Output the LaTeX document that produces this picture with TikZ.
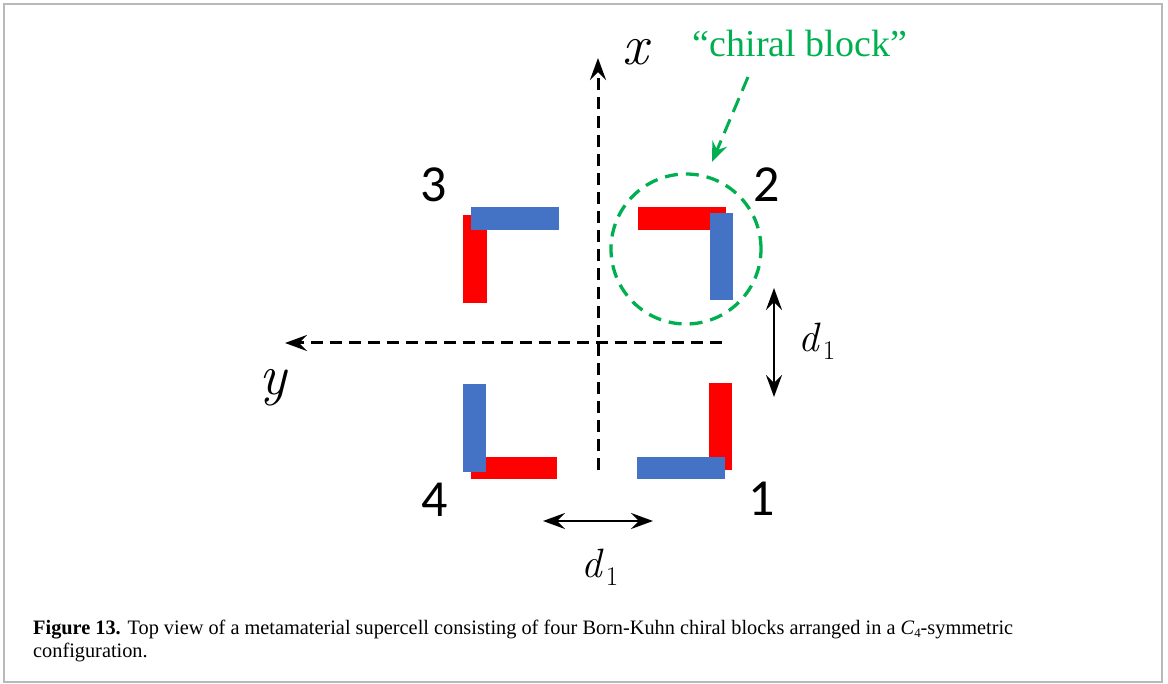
\documentclass[tikz,border=0pt]{standalone}
\usepackage{fontspec}
\usepackage{graphicx}
\newfontfamily\digitfont{Carlito}
\newfontfamily\capfont{Liberation Serif}
\usetikzlibrary{arrows.meta}
\definecolor{myred}{HTML}{FF0000}
\definecolor{myblue}{HTML}{4472C4}
\definecolor{mygreen}{HTML}{00B050}
\newsavebox\capA
\newsavebox\capB
\newcommand\donesub{\textit{d}\kern1.5pt\raisebox{-8pt}{\fontsize{27}{30}\selectfont 1}}
\tikzset{
  axisline/.style={line width=3pt, dash pattern=on 12pt off 7pt, -{Stealth[length=22pt,width=16pt,inset=8pt]}},
  dimarrow/.style={line width=2.6pt, {Stealth[length=22pt,width=16pt,inset=8pt]}-{Stealth[length=22pt,width=16pt,inset=8pt]}},
  greenarrow/.style={mygreen, line width=3pt, dash pattern=on 15pt off 8pt, -{Stealth[length=20pt,width=16pt,inset=7pt]}},
  digitlabel/.style={anchor=base, inner sep=0pt, font=\digitfont\fontsize{52}{60}\selectfont},
  axislabel/.style={anchor=base, inner sep=0pt, font=\fontsize{57}{60}\selectfont\itshape},
  dimlabel/.style={anchor=base, inner sep=0pt, font=\fontsize{41}{44}\selectfont},
  redbar/.style={fill=myred},
  bluebar/.style={fill=myblue},
}
\begin{document}
\sbox\capA{\capfont\fontsize{20.5}{23}\selectfont\textbf{Figure 13.} Top view of a metamaterial supercell consisting of four Born-Kuhn chiral blocks arranged in a \textit{C}\raisebox{-3pt}{\fontsize{13}{13}\selectfont 4}-symmetric}%
\sbox\capB{\capfont\fontsize{20.5}{23}\selectfont configuration.}%
\pgfmathsetmacro\capsx{980/\the\wd\capA}%
\begin{tikzpicture}[x=1pt,y=-1pt]
\useasboundingbox (0,0) rectangle (1168,684);
\draw[gray!55, line width=2.5pt] (4,4) rectangle (1162,682);

% axes
\coordinate (xs) at (598,470);
\coordinate (xe) at (598,58);
\coordinate (ys) at (722,343);
\coordinate (ye) at (285,343);
\draw[axisline] (xs) -- (xe);
\draw[axisline] (ys) -- (ye);
\node[axislabel] (xl) at (635,65) {x};
\node[axislabel] (yl) at (273,395) {y};

% block 3
\fill[redbar] (463,215) rectangle (487,303);
\fill[bluebar] (471,207) rectangle (559,230);
% block 2
\fill[redbar] (638,207) rectangle (726,230);
\fill[bluebar] (710,213) rectangle (733,300);
% block 4
\fill[redbar] (471,457) rectangle (557,479);
\fill[bluebar] (463,384) rectangle (486,472);
% block 1
\fill[redbar] (709,383) rectangle (732,470);
\fill[bluebar] (637,457) rectangle (725,479);

% labels
\node[digitlabel] (n3) at (434,202) {3};
\node[digitlabel] (n2) at (767,202) {2};
\node[digitlabel] (n4) at (435,517) {4};
\node[digitlabel] (n1) at (762,515) {1};

% chiral block circle
\node[draw=mygreen, line width=3.3pt, dash pattern=on 13pt off 8pt, circle, minimum size=150pt, inner sep=0pt] (chiral) at (686,249) {};
\node[anchor=base, inner sep=0pt, text=mygreen, font=\capfont\fontsize{38}{40}\selectfont] (cb) at (800,57) {“chiral block”};
\coordinate (gs) at (748,77);
\coordinate (ge) at (712,162);
\draw[greenarrow] (gs) -- (ge);

% d1 arrows
\coordinate (va) at (774,288);
\coordinate (vb) at (774,397);
\draw[dimarrow] (va) -- (vb);
\node[dimlabel] (d1v) at (817,352) {\donesub};
\coordinate (ha) at (543,521);
\coordinate (hb) at (653,521);
\draw[dimarrow] (ha) -- (hb);
\node[dimlabel] (d1h) at (600,577) {\donesub};

% caption
\node[anchor=base west, inner sep=0pt] (cap1) at (33,634) {\scalebox{\capsx}[1]{\usebox\capA}};
\node[anchor=base west, inner sep=0pt] (cap2) at (33,657) {\scalebox{\capsx}[1]{\usebox\capB}};
\end{tikzpicture}
\end{document}
